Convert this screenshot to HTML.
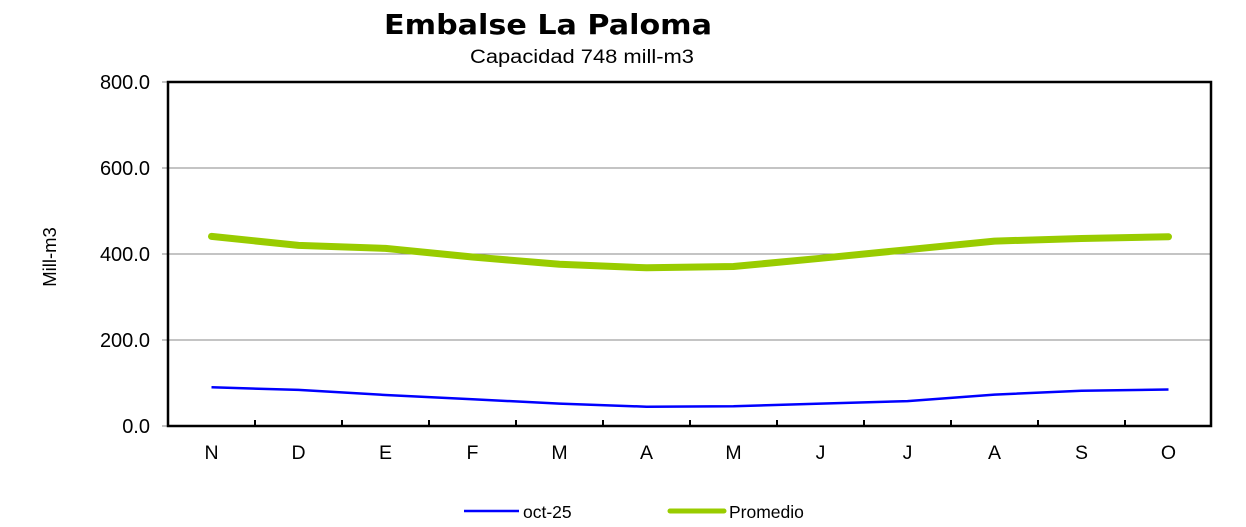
<!DOCTYPE html>
<html><head><meta charset="utf-8"><style>html,body{margin:0;padding:0;background:#fff}svg{display:block}</style></head>
<body>
<svg width="1246" height="527" viewBox="0 0 1246 527" xmlns="http://www.w3.org/2000/svg" font-family="Liberation Sans, Arial, sans-serif">
<text x="384" y="34" font-family="DejaVu Sans, Verdana, sans-serif" font-weight="bold" font-size="28" textLength="328" lengthAdjust="spacingAndGlyphs">Embalse La Paloma</text>
<text x="470" y="63" font-size="19" textLength="224" lengthAdjust="spacingAndGlyphs">Capacidad 748 mill-m3</text>
<g stroke="#888" stroke-width="1">
<line x1="168" y1="168" x2="1211" y2="168"/>
<line x1="168" y1="254" x2="1211" y2="254"/>
<line x1="168" y1="340" x2="1211" y2="340"/>
<line x1="162" y1="82" x2="168" y2="82"/>
<line x1="162" y1="168" x2="168" y2="168"/>
<line x1="162" y1="254" x2="168" y2="254"/>
<line x1="162" y1="340" x2="168" y2="340"/>
<line x1="162" y1="426" x2="168" y2="426"/>
</g>
<rect x="168" y="82" width="1043" height="344" fill="none" stroke="#000" stroke-width="2.5"/>
<g stroke="#000" stroke-width="2">
<line x1="255" y1="426" x2="255" y2="420"/><line x1="342" y1="426" x2="342" y2="420"/><line x1="429" y1="426" x2="429" y2="420"/><line x1="516" y1="426" x2="516" y2="420"/><line x1="603" y1="426" x2="603" y2="420"/><line x1="690" y1="426" x2="690" y2="420"/><line x1="777" y1="426" x2="777" y2="420"/><line x1="864" y1="426" x2="864" y2="420"/><line x1="951" y1="426" x2="951" y2="420"/><line x1="1038" y1="426" x2="1038" y2="420"/><line x1="1125" y1="426" x2="1125" y2="420"/>
</g>
<g font-size="20" text-anchor="end">
<text x="150" y="89">800.0</text><text x="150" y="175">600.0</text><text x="150" y="261">400.0</text><text x="150" y="347">200.0</text><text x="150" y="433">0.0</text>
</g>
<text transform="translate(56,257) rotate(-90)" font-size="18.5" text-anchor="middle">Mill-m3</text>
<g font-size="19.5" text-anchor="middle">
<text x="211.5" y="459">N</text><text x="298.5" y="459">D</text><text x="385.5" y="459">E</text><text x="472.5" y="459">F</text><text x="559.5" y="459">M</text><text x="646.5" y="459">A</text><text x="733.5" y="459">M</text><text x="820.5" y="459">J</text><text x="907.5" y="459">J</text><text x="994.5" y="459">A</text><text x="1081.5" y="459">S</text><text x="1168.5" y="459">O</text>
</g>
<polyline fill="none" stroke="#99CC00" stroke-width="7" stroke-linejoin="round" stroke-linecap="round" points="211.5,236.4 298.5,245.4 385.5,248.4 472.5,257 559.5,264.3 646.5,267.8 733.5,266.5 820.5,258.3 907.5,249.7 994.5,241.1 1081.5,238.5 1168.5,236.8"/>
<polyline fill="none" stroke="#0000FF" stroke-width="2.5" stroke-linejoin="round" points="211.5,387.3 298.5,389.9 385.5,395 472.5,399.3 559.5,403.6 646.5,406.7 733.5,406.2 820.5,403.6 907.5,401.1 994.5,394.6 1081.5,390.7 1168.5,389.5"/>
<line x1="464" y1="511" x2="519" y2="511" stroke="#0000FF" stroke-width="2.5"/>
<text x="523" y="518" font-size="17.5">oct-25</text>
<line x1="670" y1="511" x2="724" y2="511" stroke="#99CC00" stroke-width="5" stroke-linecap="round"/>
<text x="729" y="518" font-size="17.5">Promedio</text>
</svg>
</body></html>
